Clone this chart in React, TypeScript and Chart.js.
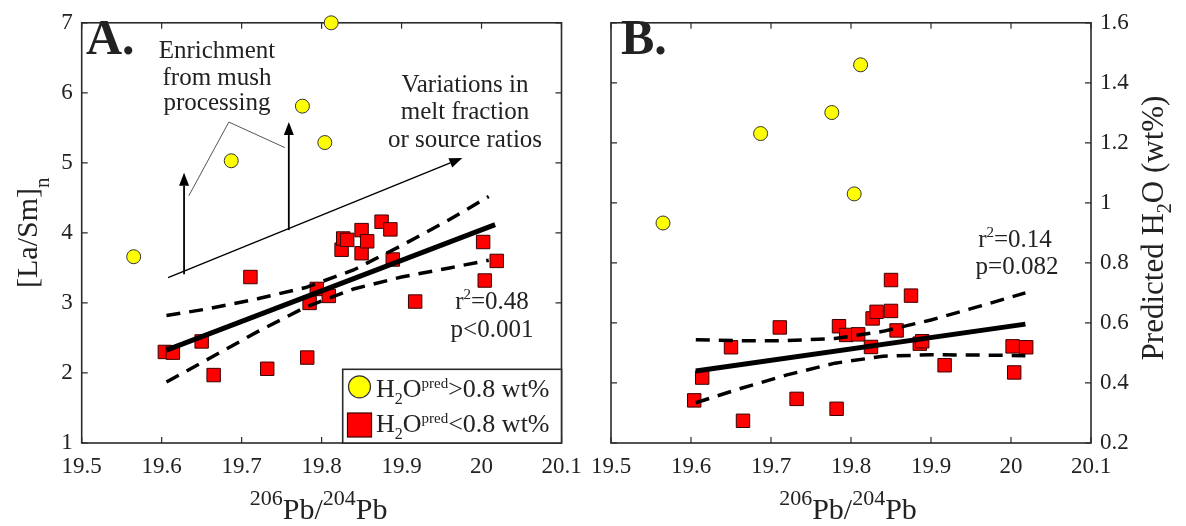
import React, { useEffect, useRef } from 'react';
import { Chart, registerables } from 'chart.js';

Chart.register(...registerables);

// ---------- data ----------
const pbHigh = [19.565, 19.687, 19.776, 19.804, 19.812];
const laSmHigh = [3.66, 5.03, 5.81, 5.29, 7.0];
const h2oHigh = [0.933, 1.231, 1.301, 1.03, 1.46];

const pbLow = [19.604, 19.614, 19.65, 19.665, 19.711, 19.732, 19.782, 19.785, 19.794, 19.809, 19.825, 19.827, 19.832, 19.85, 19.85, 19.857, 19.875, 19.886, 19.889, 19.917, 20.002, 20.004, 20.019];
const laSmLow = [2.3, 2.29, 2.45, 1.97, 3.37, 2.06, 2.22, 3.0, 3.2, 3.1, 3.76, 3.92, 3.9, 4.04, 3.71, 3.88, 4.16, 4.05, 3.62, 3.02, 3.87, 3.32, 3.6];
const h2oLow = [0.342, 0.418, 0.519, 0.274, 0.585, 0.347, 0.314, 0.589, 0.56, 0.562, 0.52, 0.615, 0.637, 0.743, 0.64, 0.575, 0.691, 0.531, 0.539, 0.459, 0.522, 0.435, 0.519];

const aFitX = [19.606, 20.017];
const aFitY = [2.327, 4.119];
const aBandX = [19.606, 19.66, 19.72, 19.78, 19.84, 19.9, 19.96, 20.009];
const aUpper = [2.82, 2.92, 3.06, 3.22, 3.47, 3.82, 4.19, 4.52];
const aLower = [1.87, 2.21, 2.59, 2.94, 3.2, 3.37, 3.5, 3.61];

const bFitX = [19.606, 20.018];
const bFitY = [0.44, 0.596];
const bBandX = [19.606, 19.66, 19.72, 19.78, 19.84, 19.9, 19.96, 20.018];
const bUpper = [0.544, 0.541, 0.541, 0.548, 0.572, 0.61, 0.655, 0.7];
const bLower = [0.334, 0.38, 0.427, 0.466, 0.489, 0.494, 0.493, 0.491];

const xTicks = [19.5, 19.6, 19.7, 19.8, 19.9, 20, 20.1];
const xTickLabels = ['19.5', '19.6', '19.7', '19.8', '19.9', '20', '20.1'];
const aYTicks = [1, 2, 3, 4, 5, 6, 7];
const aYTickLabels = ['1', '2', '3', '4', '5', '6', '7'];
const bYTicks = [0.2, 0.4, 0.6, 0.8, 1.0, 1.2, 1.4, 1.6];
const bYTickLabels = ['0.2', '0.4', '0.6', '0.8', '1', '1.2', '1.4', '1.6'];

const legendLabels = ['>0.8 wt%', '<0.8 wt%'];
const statsA = ['0.48', 'p<0.001'];
const statsB = ['0.14', 'p=0.082'];

// ---------- styles ----------
const FONT = '"Liberation Serif", "Times New Roman", serif';
const TXT = '#222222';
const AXIS = '#2a2a2a';
const RED = '#ff0000';
const RED_EDGE = '#3a0000';
const YEL = '#ffff00';
const YEL_EDGE = '#333333';

type Seg = { t: string; size: number; dy?: number; bold?: boolean };

function setFont(ctx: CanvasRenderingContext2D, s: Seg) {
  ctx.font = `${s.bold ? 'bold ' : ''}${s.size}px ${FONT}`;
}
function richWidth(ctx: CanvasRenderingContext2D, segs: Seg[]) {
  let w = 0;
  for (const s of segs) {
    setFont(ctx, s);
    w += ctx.measureText(s.t).width;
  }
  return w;
}
function drawRich(ctx: CanvasRenderingContext2D, segs: Seg[], x: number, y: number, align: 'left' | 'center' = 'left') {
  let cx = align === 'center' ? x - richWidth(ctx, segs) / 2 : x;
  ctx.textAlign = 'left';
  ctx.textBaseline = 'alphabetic';
  for (const s of segs) {
    setFont(ctx, s);
    ctx.fillText(s.t, cx, y + (s.dy || 0));
    cx += ctx.measureText(s.t).width;
  }
}
function arrow(ctx: CanvasRenderingContext2D, x1: number, y1: number, x2: number, y2: number, lw: number) {
  const ang = Math.atan2(y2 - y1, x2 - x1);
  const L = 13, W = 5;
  const bx = x2 - L * Math.cos(ang), by = y2 - L * Math.sin(ang);
  ctx.lineWidth = lw;
  ctx.beginPath();
  ctx.moveTo(x1, y1);
  ctx.lineTo(bx, by);
  ctx.stroke();
  ctx.beginPath();
  ctx.moveTo(x2, y2);
  ctx.lineTo(bx + W * Math.sin(ang), by - W * Math.cos(ang));
  ctx.lineTo(bx - W * Math.sin(ang), by + W * Math.cos(ang));
  ctx.closePath();
  ctx.fill();
}

function boxPlugin(id: string) {
  return {
    id,
    beforeDatasetsDraw(chart: any) {
      const { ctx, chartArea: a } = chart;
      const xs = chart.scales.x, ys = chart.scales.y;
      ctx.save();
      ctx.strokeStyle = AXIS;
      ctx.lineWidth = 1.6;
      ctx.strokeRect(a.left, a.top, a.right - a.left, a.bottom - a.top);
      ctx.lineWidth = 1.2;
      ctx.beginPath();
      for (const t of xs.ticks) {
        const px = xs.getPixelForValue(t.value);
        ctx.moveTo(px, a.bottom); ctx.lineTo(px, a.bottom - 6);
        ctx.moveTo(px, a.top); ctx.lineTo(px, a.top + 6);
      }
      for (const t of ys.ticks) {
        const py = ys.getPixelForValue(t.value);
        ctx.moveTo(a.left, py); ctx.lineTo(a.left + 6, py);
        ctx.moveTo(a.right, py); ctx.lineTo(a.right - 6, py);
      }
      ctx.stroke();
      ctx.restore();
    },
  };
}

const xTitle: Seg[] = [
  { t: '206', size: 22, dy: -14 },
  { t: 'Pb/', size: 30 },
  { t: '204', size: 22, dy: -14 },
  { t: 'Pb', size: 30 },
];

const plugA = {
  id: 'annA',
  afterDraw(chart: any) {
    const { ctx, chartArea: a } = chart;
    const xs = chart.scales.x, ys = chart.scales.y;
    const X = (v: number) => xs.getPixelForValue(v);
    const Y = (v: number) => ys.getPixelForValue(v);
    ctx.save();
    ctx.fillStyle = TXT;
    ctx.strokeStyle = '#000';
    drawRich(ctx, [{ t: 'A.', size: 50, bold: true }], 86, 54);
    drawRich(ctx, xTitle, (a.left + a.right) / 2 - 3, 519, 'center');
    ctx.save();
    ctx.translate(37, 288);
    ctx.rotate(-Math.PI / 2);
    drawRich(ctx, [{ t: '[La/Sm]', size: 30 }, { t: 'n', size: 21, dy: 12 }], 0, 0);
    ctx.restore();
    ctx.fillStyle = TXT;
    drawRich(ctx, [{ t: 'Enrichment', size: 25 }], 217, 58, 'center');
    drawRich(ctx, [{ t: 'from mush', size: 25 }], 217, 85, 'center');
    drawRich(ctx, [{ t: 'processing', size: 25 }], 217, 110, 'center');
    drawRich(ctx, [{ t: 'Variations in', size: 25 }], 465, 92, 'center');
    drawRich(ctx, [{ t: 'melt fraction', size: 25 }], 465, 119, 'center');
    drawRich(ctx, [{ t: 'or source ratios', size: 25 }], 465, 147, 'center');
    ctx.fillStyle = '#000';
    arrow(ctx, X(19.628), Y(3.408), X(19.628), Y(4.858), 1.8);
    arrow(ctx, X(19.759), Y(4.04), X(19.759), Y(5.583), 1.8);
    arrow(ctx, X(19.608), Y(3.361), X(19.976), Y(5.069), 1.4);
    ctx.strokeStyle = '#555';
    ctx.lineWidth = 1;
    ctx.beginPath();
    ctx.moveTo(X(19.634), Y(4.531));
    ctx.lineTo(X(19.684), Y(5.583));
    ctx.lineTo(X(19.754), Y(5.218));
    ctx.stroke();
    ctx.fillStyle = TXT;
    drawRich(ctx, [{ t: 'r', size: 25 }, { t: '2', size: 15, dy: -10 }, { t: '=' + statsA[0], size: 25 }], 492, 309, 'center');
    drawRich(ctx, [{ t: statsA[1], size: 25 }], 492, 337, 'center');
    const lx = 342.7, ly = 369.3;
    ctx.fillStyle = '#fff';
    ctx.fillRect(lx, ly, a.right - lx, a.bottom - ly);
    ctx.strokeStyle = AXIS;
    ctx.lineWidth = 1.6;
    ctx.strokeRect(lx, ly, a.right - lx, a.bottom - ly);
    ctx.fillStyle = YEL;
    ctx.strokeStyle = YEL_EDGE;
    ctx.lineWidth = 1.2;
    ctx.beginPath();
    ctx.arc(359.5, 386.8, 11, 0, Math.PI * 2);
    ctx.fill();
    ctx.stroke();
    ctx.fillStyle = RED;
    ctx.strokeStyle = RED_EDGE;
    ctx.fillRect(347.5, 413, 24, 24);
    ctx.strokeRect(347.5, 413, 24, 24);
    ctx.fillStyle = TXT;
    const h2o = (s: string): Seg[] => [
      { t: 'H', size: 26 }, { t: '2', size: 16, dy: 7 }, { t: 'O', size: 26 },
      { t: 'pred', size: 15, dy: -9 }, { t: s, size: 26 },
    ];
    drawRich(ctx, h2o(legendLabels[0]), 376, 397);
    drawRich(ctx, h2o(legendLabels[1]), 376, 432);
    ctx.restore();
  },
};

const plugB = {
  id: 'annB',
  afterDraw(chart: any) {
    const { ctx, chartArea: a } = chart;
    ctx.save();
    ctx.fillStyle = TXT;
    drawRich(ctx, [{ t: 'B.', size: 50, bold: true }], 621, 54);
    drawRich(ctx, xTitle, (a.left + a.right) / 2 - 3, 519, 'center');
    ctx.save();
    ctx.translate(1163, 228);
    ctx.rotate(-Math.PI / 2);
    drawRich(ctx, [
      { t: 'Predicted H', size: 31 }, { t: '2', size: 20, dy: 8 }, { t: 'O (wt%)', size: 31 },
    ], 0, 0, 'center');
    ctx.restore();
    drawRich(ctx, [{ t: 'r', size: 25 }, { t: '2', size: 15, dy: -10 }, { t: '=' + statsB[0], size: 25 }], 1015, 247, 'center');
    drawRich(ctx, [{ t: statsB[1], size: 25 }], 1017, 274, 'center');
    ctx.restore();
  },
};

const pts = (xs: number[], ys: number[]) => xs.map((x, i) => ({ x, y: ys[i] }));

function baseScales(yTicks: number[], yLabels: string[], ymin: number, ymax: number, yPos: 'left' | 'right', yWidth: number) {
  const tickFont = { family: FONT, size: 23 };
  return {
    x: {
      type: 'linear',
      min: 19.5,
      max: 20.1,
      afterBuildTicks: (s: any) => { s.ticks = xTicks.map((v) => ({ value: v })); },
      afterFit: (s: any) => { s.height = 83; },
      ticks: {
        font: tickFont, color: TXT, padding: 10, maxRotation: 0, autoSkip: false,
        callback: (v: number) => xTickLabels[xTicks.findIndex((t) => Math.abs(t - v) < 1e-6)],
      },
      grid: { display: false, drawTicks: false },
      border: { display: false },
    },
    y: {
      type: 'linear',
      position: yPos,
      min: ymin,
      max: ymax,
      afterBuildTicks: (s: any) => { s.ticks = yTicks.map((v) => ({ value: v })); },
      afterFit: (s: any) => { s.width = yWidth; },
      ticks: {
        font: tickFont, color: TXT, padding: 9, autoSkip: false,
        callback: (v: number) => yLabels[yTicks.findIndex((t) => Math.abs(t - v) < 1e-6)],
      },
      grid: { display: false, drawTicks: false },
      border: { display: false },
    },
  };
}

function datasets(yHigh: number[], yLow: number[], fitX: number[], fitY: number[], bandX: number[], up: number[], lo: number[]) {
  const line = (d: any, w: number, dash: number[]) => ({
    data: d, showLine: true, pointRadius: 0, borderColor: '#000', borderWidth: w,
    borderDash: dash, borderCapStyle: 'butt', fill: false, order: 0,
  });
  return [
    line(pts(fitX, fitY), 5, []),
    line(pts(bandX, up), 3.5, [14, 9]),
    line(pts(bandX, lo), 3.5, [14, 9]),
    {
      data: pts(pbLow, yLow), pointStyle: 'rect', pointRadius: 9.5, backgroundColor: RED,
      borderColor: RED_EDGE, borderWidth: 1, showLine: false, order: 1, clip: false,
    },
    {
      data: pts(pbHigh, yHigh), pointStyle: 'circle', pointRadius: 7, backgroundColor: YEL,
      borderColor: YEL_EDGE, borderWidth: 1, showLine: false, order: 1, clip: false,
    },
  ];
}

export default function App() {
  const refA = useRef<HTMLCanvasElement>(null);
  const refB = useRef<HTMLCanvasElement>(null);

  useEffect(() => {
    document.body.style.margin = '0';
    const common = {
      animation: false,
      responsive: false,
      devicePixelRatio: 1,
      events: [],
      plugins: { legend: { display: false }, tooltip: { enabled: false } },
    };
    const chartA = new Chart(refA.current!, {
      type: 'scatter',
      data: { datasets: datasets(laSmHigh, laSmLow, aFitX, aFitY, aBandX, aUpper, aLower) as any },
      options: {
        ...common,
        layout: { padding: { left: 0, right: 1186 - 561.5, top: 15.7, bottom: 0 } },
        scales: baseScales(aYTicks, aYTickLabels, 1, 7, 'left', 81.7) as any,
      } as any,
      plugins: [boxPlugin('boxA'), plugA],
    });
    const chartB = new Chart(refB.current!, {
      type: 'scatter',
      data: { datasets: datasets(h2oHigh, h2oLow, bFitX, bFitY, bBandX, bUpper, bLower) as any },
      options: {
        ...common,
        layout: { padding: { left: 611, right: 0, top: 15.7, bottom: 0 } },
        scales: baseScales(bYTicks, bYTickLabels, 0.2, 1.6, 'right', 1186 - 1091) as any,
      } as any,
      plugins: [boxPlugin('boxB'), plugB],
    });
    return () => {
      chartA.destroy();
      chartB.destroy();
    };
  }, []);

  const cs: React.CSSProperties = { position: 'absolute', left: 0, top: 0, width: 1186, height: 526 };
  return (
    <div style={{ position: 'absolute', left: 0, top: 0, width: 1186, height: 526, background: '#fff' }}>
      <canvas ref={refA} width={1186} height={526} style={cs} />
      <canvas ref={refB} width={1186} height={526} style={cs} />
    </div>
  );
}
